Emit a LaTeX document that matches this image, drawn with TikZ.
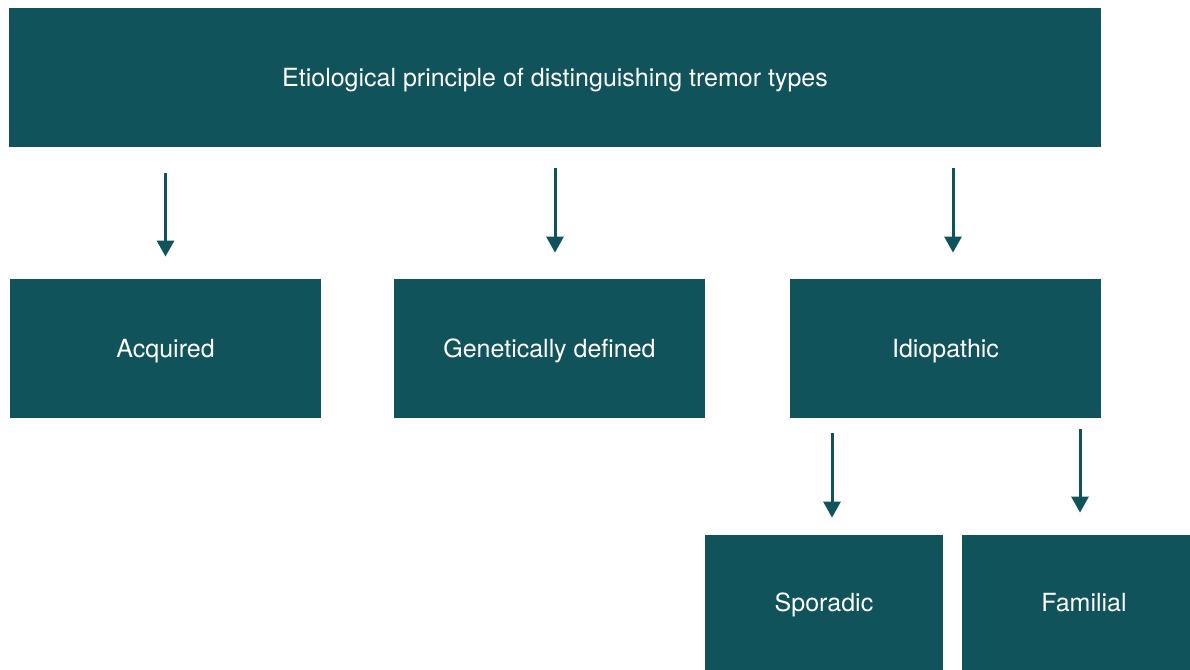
\documentclass[tikz,border=0pt]{standalone}
\usepackage{fontspec}
\setmainfont{TeX Gyre Heros}
\usetikzlibrary{arrows.meta,positioning,calc}
\definecolor{petrol}{HTML}{11535A}

\begin{document}
\begin{tikzpicture}[x=0.5pt, y=-0.5pt, >={Triangle[width=8.5pt,length=8pt]}]
  \useasboundingbox (0,0) rectangle (1190,670);
  \tikzset{
    box/.style={rectangle, fill=petrol, text=white, font=\fontsize{12.5}{15}\selectfont,
      inner sep=0pt, text height=9pt, text depth=0pt},
    arr/.style={->, line width=1.5pt, petrol}
  }
  \node[box, minimum width=546pt, minimum height=69.5pt] (title) at (555,77.5) {Etiological principle of distinguishing tremor types};
  \foreach \x/\name/\lab in {165.5/acq/Acquired, 549.5/gen/Genetically defined, 945.5/idio/Idiopathic} {
    \node[box, minimum width=155.5pt, minimum height=69.5pt] (\name) at (\x,348.5) {\lab};
  }
  \node[box, minimum width=119pt, minimum height=67.5pt] (spor) at (824,602.5) {Sporadic};
  \node[box, minimum width=114pt, minimum height=67.5pt] (fam) at (1076,602.5) {\hspace{8pt}Familial};
  \foreach \from/\to/\dx/\s/\e in {title/acq/0/13pt/11pt, title/gen/5.5/10.5pt/13pt, title/idio/7.5/10.5pt/13pt, idio/spor/8/7.5pt/8.5pt, idio/fam/4/5.5pt/11pt} {
    \draw[arr, shorten <=\s, shorten >=\e] ($(\from.south -| \to.north)+(\dx,0)$) -- ($(\to.north)+(\dx,0)$);
  }
\end{tikzpicture}
\end{document}
